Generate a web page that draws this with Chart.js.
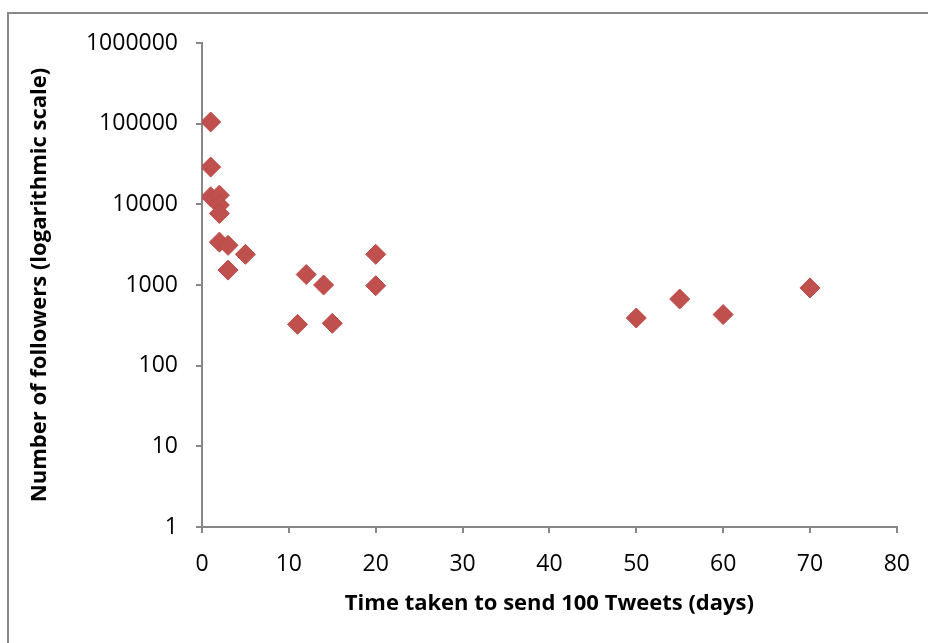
<!DOCTYPE html>
<html>
<head>
<meta charset="utf-8">
<script src="https://cdn.jsdelivr.net/npm/chart.js@4"></script>
<style>
  html, body { margin: 0; padding: 0; background: #fff; }
  #wrap { position: relative; width: 928px; height: 643px; overflow: hidden; }
  #frame { position: absolute; left: 7px; top: 12px; width: 940px; height: 660px;
           border-left: 2px solid #898989; border-top: 2px solid #898989; box-sizing: border-box; }
  canvas { position: absolute; left: 0; top: 0; }
</style>
</head>
<body>
<div id="wrap">
  <div id="frame"></div>
  <canvas id="c" width="928" height="643"></canvas>
</div>
<script>
// Days taken to send 100 tweets
const daysTaken = [1, 1, 1, 2, 2, 2, 2, 3, 5, 3, 12, 14, 20, 20, 11, 15, 50, 55, 60, 70];
// Number of followers
const followers = [105000, 29000, 12400, 13000, 9800, 7700, 3400, 3100, 2400, 1530,
                   1350, 1000, 2400, 980, 325, 335, 390, 670, 430, 920];
const yTickValues = [1, 10, 100, 1000, 10000, 100000, 1000000];
const xTickValues = [0, 10, 20, 30, 40, 50, 60, 70, 80];
const xTitle = 'Time taken to send 100 Tweets (days)';
const yTitle = 'Number of followers (logarithmic scale)';

const points = daysTaken.map((d, i) => ({ x: d, y: followers[i] }));
const axisColor = '#878787';
const fontFamily = '"Open Sans", "Liberation Sans", sans-serif';

new Chart(document.getElementById('c'), {
  type: 'scatter',
  data: {
    datasets: [{
      data: points,
      pointStyle: 'rectRot',
      pointRadius: 10,
      backgroundColor: '#C0504D',
      borderColor: '#BA4A47',
      borderWidth: 1
    }]
  },
  options: {
    responsive: false,
    animation: false,
    events: [],
    layout: { padding: { left: 0, top: 43, right: 30, bottom: 0 } },
    plugins: { legend: { display: false }, tooltip: { enabled: false } },
    scales: {
      x: {
        type: 'linear',
        min: 0, max: 80,
        afterBuildTicks: s => { s.ticks = xTickValues.map(v => ({ value: v })); },
        afterFit: s => { s.height = 116; },
        grid: { display: true, drawOnChartArea: false, drawTicks: true, tickLength: 6, color: axisColor, lineWidth: 2 },
        border: { display: true, color: axisColor, width: 2 },
        ticks: { color: '#000', padding: 18, font: { family: fontFamily, size: 23 } },
        title: { display: true, text: xTitle, color: '#000', padding: { top: 4, bottom: 26 },
                 font: { family: fontFamily, size: 22, weight: 'bold' } }
      },
      y: {
        type: 'logarithmic',
        min: 1, max: 1000000,
        afterBuildTicks: s => { s.ticks = yTickValues.map(v => ({ value: v })); },
        afterFit: s => { s.width = 202; },
        grid: { display: true, drawOnChartArea: false, drawTicks: true, tickLength: 6, color: axisColor, lineWidth: 2 },
        border: { display: true, color: axisColor, width: 2 },
        ticks: { color: '#000', padding: 18, font: { family: fontFamily, size: 23 },
                 callback: v => String(v) },
        title: { display: true, text: yTitle, color: '#000', padding: { top: 27, bottom: 0 },
                 font: { family: fontFamily, size: 22, weight: 'bold' } }
      }
    }
  }
});
</script>
</body>
</html>
